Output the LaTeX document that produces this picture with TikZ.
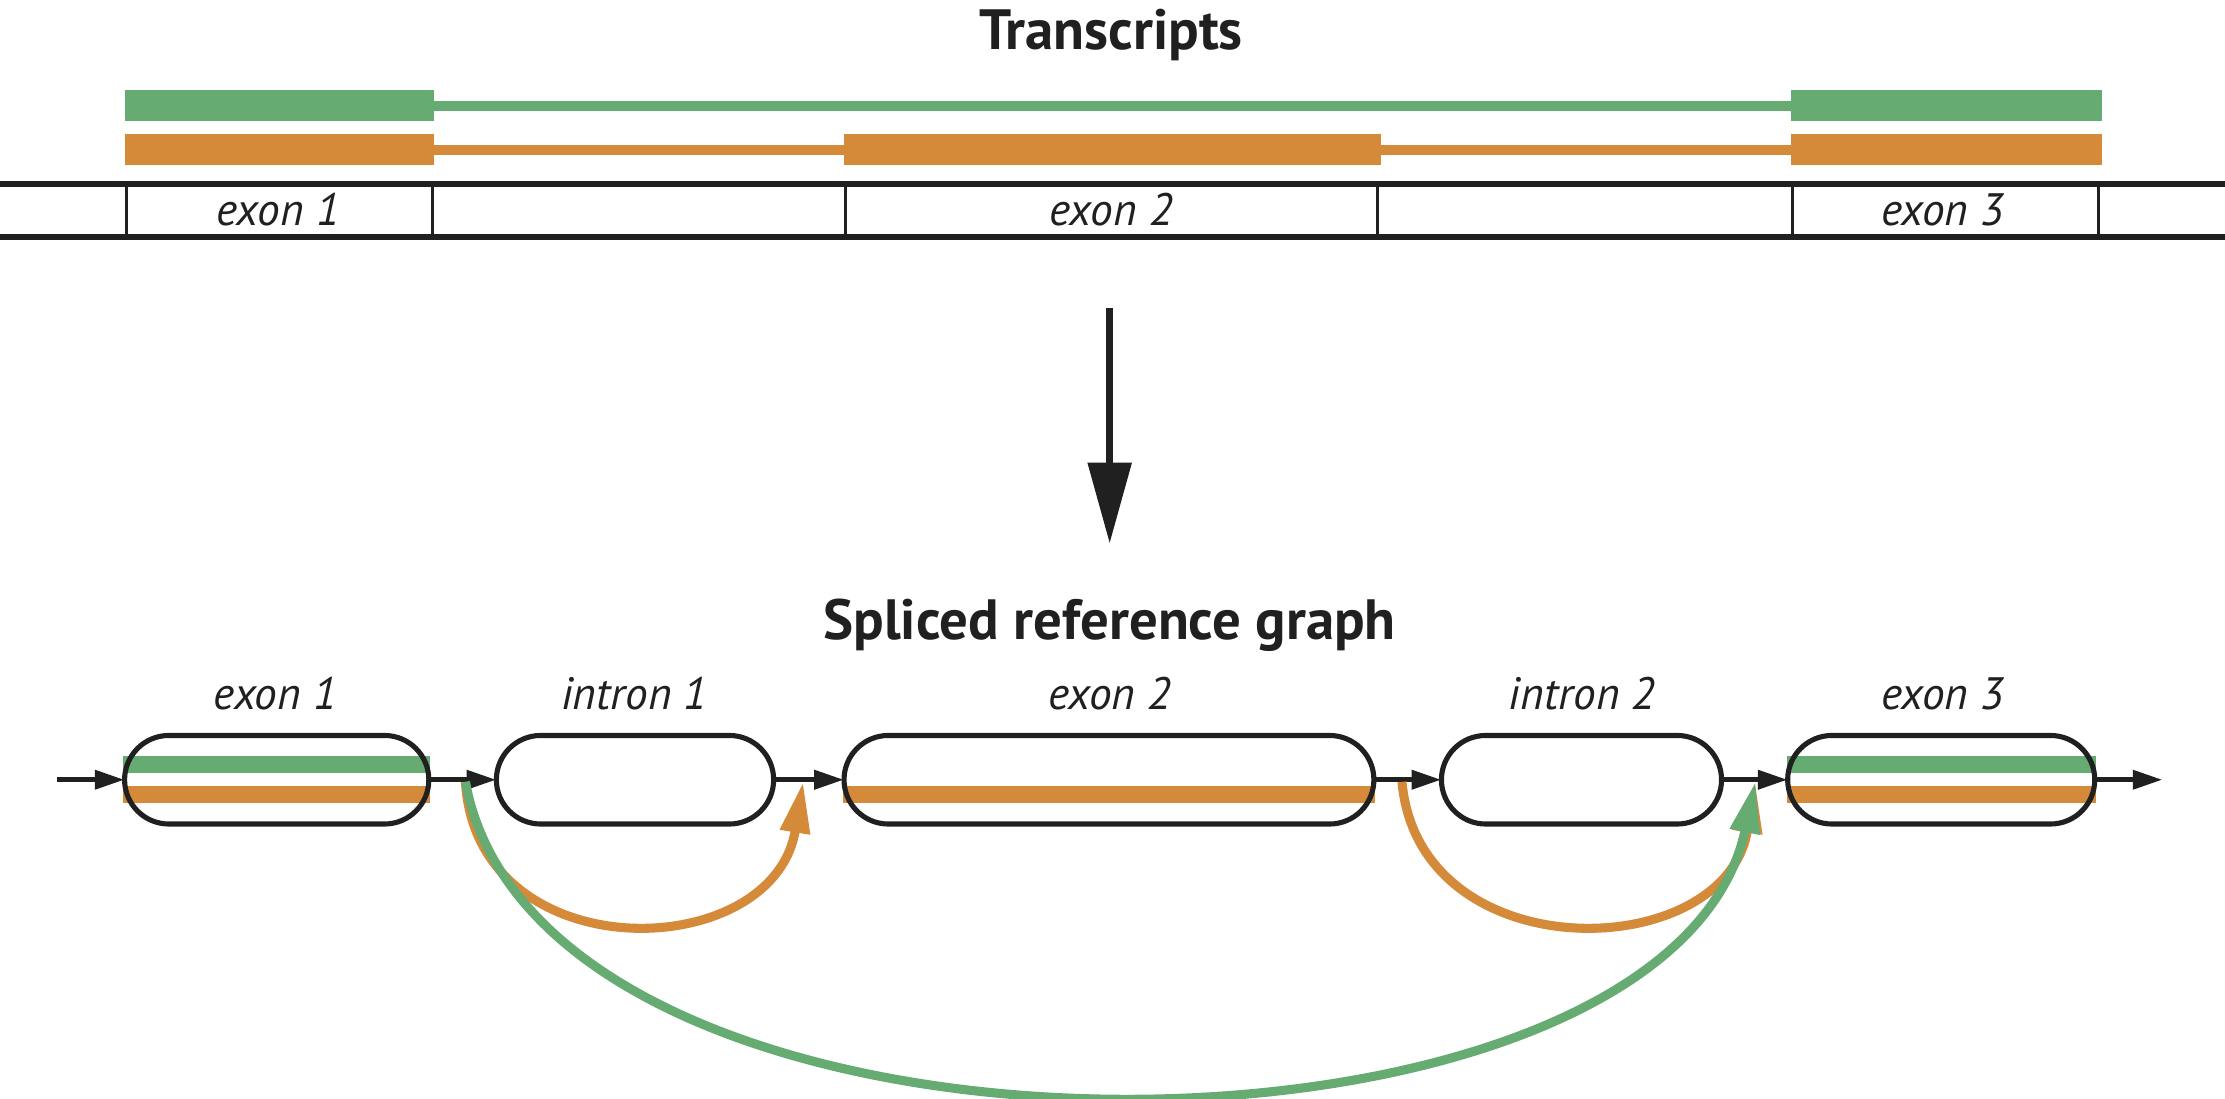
\documentclass[tikz,border=0pt]{standalone}
\usepackage{fontspec}
\setmainfont{PT Sans}
\usetikzlibrary{arrows.meta}
\definecolor{gr}{HTML}{66AB72}
\definecolor{og}{HTML}{D58A3A}
\definecolor{ink}{HTML}{202020}
\tikzset{
  pill/.style={draw=ink, line width=1.8pt, rounded corners=15.6pt, minimum height=31.2pt, inner sep=0pt, outer sep=0pt},
  lbl/.style={font=\fontsize{16}{19}\selectfont\itshape, text=ink, anchor=base, inner sep=0pt},
  ttl/.style={font=\fontsize{20}{24}\selectfont\bfseries, text=ink, anchor=base, inner sep=0pt},
  conn/.style={draw=ink, line width=1.9pt, -{Triangle[length=10.5pt,width=6.5pt]}},
  splice/.style={line width=3.2pt, -{Triangle[length=18pt,width=10pt]}},
  track/.style={draw=ink, line width=2pt},
  tickline/.style={draw=ink, line width=1.1pt},
}
\begin{document}
\begin{tikzpicture}[x=0.5pt,y=-0.5pt]
\useasboundingbox (0,0) rectangle (1568,774);
\fill[white] (0,0) rectangle (1568,774);
% ---------- transcripts ----------
\node[ttl] (ttlA) at (783,34.8) {Transcripts};
\fill[gr] (88,63.4) rectangle (306,85.3);
\fill[gr] (1262,63.4) rectangle (1481,85.3);
\fill[gr] (305,71.2) rectangle (1263,78.2);
\fill[og] (88,94.4) rectangle (306,116.3);
\fill[og] (595,94.4) rectangle (973,116.3);
\fill[og] (1262,94.4) rectangle (1481,116.3);
\fill[og] (305,102.2) rectangle (596,109.2);
\fill[og] (972,102.2) rectangle (1263,109.2);
\draw[track] (0,129.7) -- (1568,129.7);
\draw[track] (0,167) -- (1568,167);
\foreach \x in {89,305,596,971,1263,1479} \draw[tickline] (\x,129.7) -- (\x,167);
\node[lbl] (ta) at (196,159) {exon 1};
\node[lbl] (tb) at (783,159) {exon 2};
\node[lbl] (tc) at (1369,159) {exon 3};
% ---------- big arrow ----------
\coordinate (a1) at (782,217);
\coordinate (a2) at (782,383);
\draw[ink, line width=2.5pt, -{Triangle[length=28.5pt,width=15pt]}] (a1) -- (a2);
% ---------- graph ----------
\node[ttl] (ttlB) at (782,450.6) {Spliced reference graph};
\node[lbl] (la) at (194,500) {exon 1};
\node[lbl] (lb) at (447,500) {intron 1};
\node[lbl] (lc) at (782,500) {exon 2};
\node[lbl] (ld) at (1115,500) {intron 2};
\node[lbl] (le) at (1369,500) {exon 3};
% stripes
\fill[gr] (87,533) rectangle (303,545);
\fill[og] (87,554) rectangle (303,566);
\fill[og] (594,554) rectangle (969,566);
\fill[gr] (1259,533) rectangle (1477,545);
\fill[og] (1259,554) rectangle (1477,566);
% pills
\node[pill, minimum width=107.2pt] (e1) at (195,549.5) {};
\node[pill, minimum width=97.7pt] (i1) at (447.5,549.5) {};
\node[pill, minimum width=186.7pt] (e2) at (781.5,549.5) {};
\node[pill, minimum width=98.7pt] (i2) at (1114.5,549.5) {};
\node[pill, minimum width=108.2pt] (e3) at (1368,549.5) {};
% connectors
\coordinate (in) at (40,549.5);
\coordinate (out) at (1524,549.5);
\draw[conn] (in) -- (e1.west);
\draw[conn] (e1.east) -- (i1.west);
\draw[conn] (i1.east) -- (e2.west);
\draw[conn] (e2.east) -- (i2.west);
\draw[conn] (i2.east) -- (e3.west);
\draw[conn] (e3.east) -- (out);
% splice arcs
\coordinate (s1) at (328,551);
\coordinate (d1) at (566,551);
\coordinate (s2) at (988,551);
\coordinate (d2) at (1237,551);
\draw[splice, og] (s1) .. controls (336,685) and (545,680) .. (d1);
\draw[splice, og] (s2) .. controls (1000,685) and (1216,680) .. (d2);
\draw[splice, gr] (s1) .. controls (382,847) and (1176,840) .. (d2);
\end{tikzpicture}
\end{document}
